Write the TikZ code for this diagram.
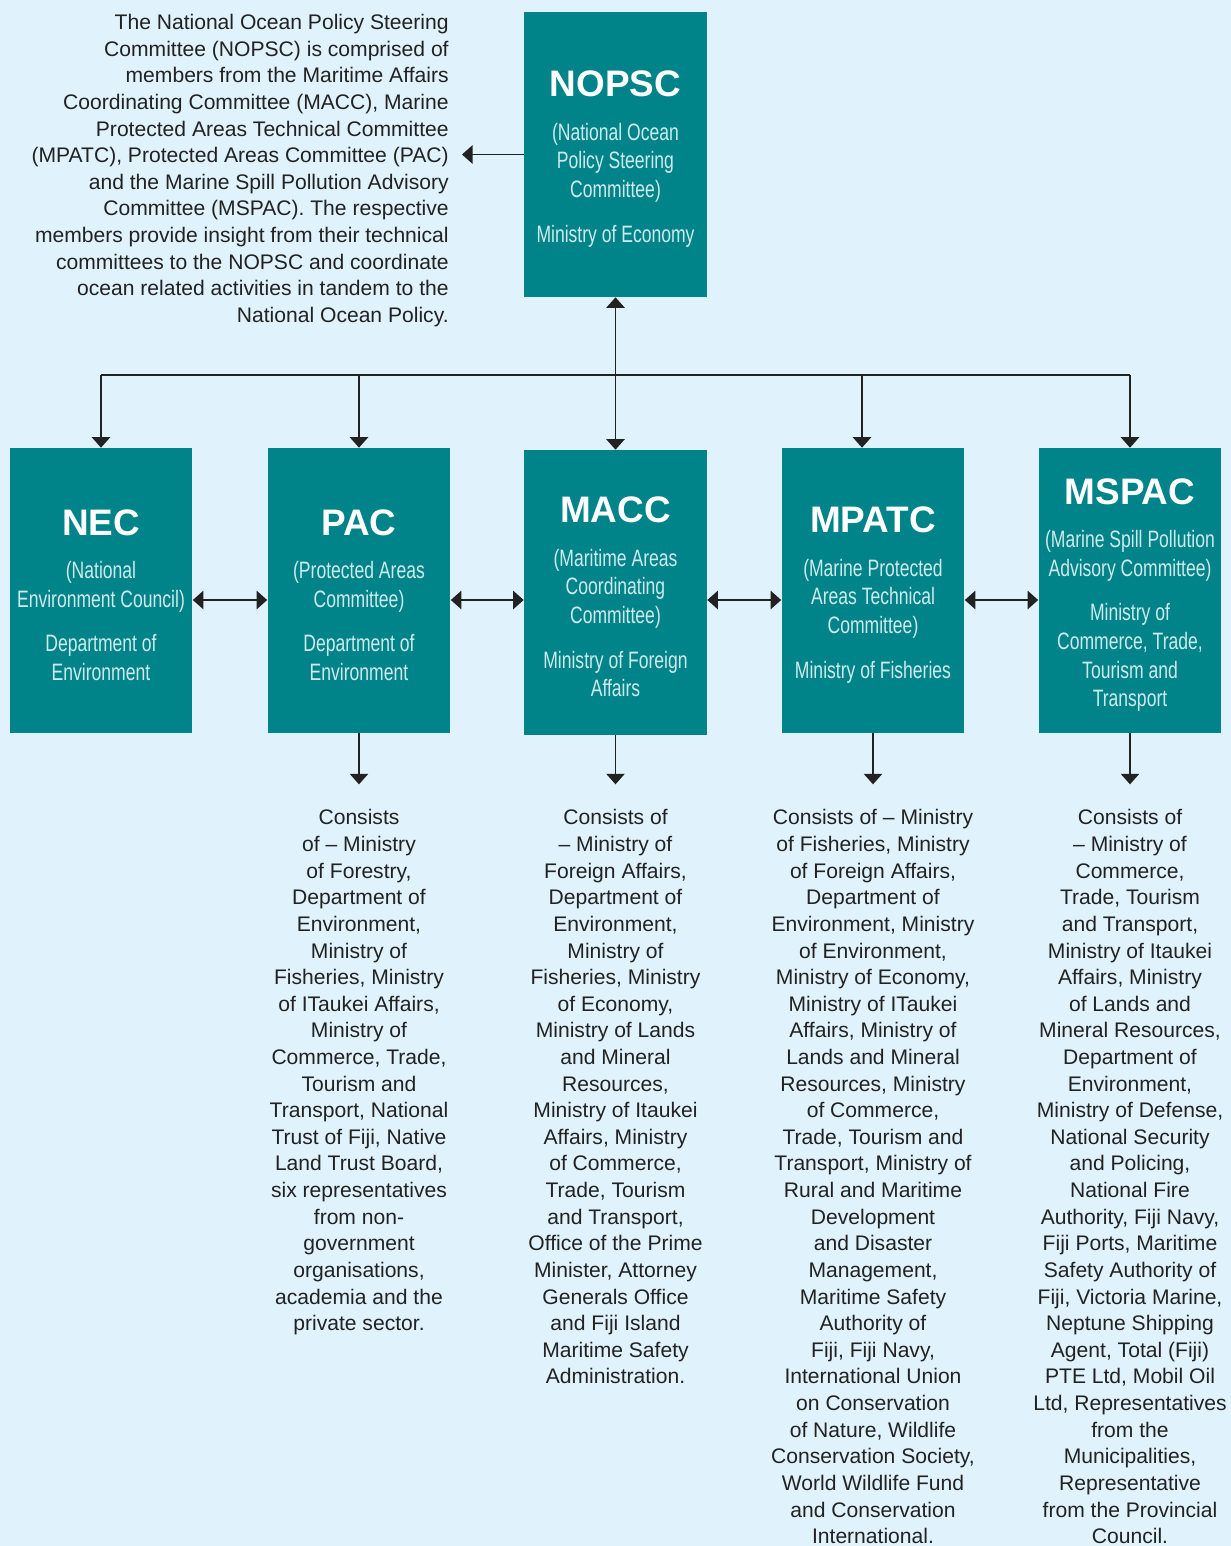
\documentclass[tikz,border=0pt]{standalone}
\usepackage{fontspec}
\setmainfont{Liberation Sans}
\newfontfamily\condfont[FakeStretch=0.74]{Liberation Sans}
\usepackage{tikz}
\usetikzlibrary{positioning,arrows.meta}
\definecolor{bgblue}{RGB}{224,242,251}
\definecolor{teal}{RGB}{0,132,138}
\definecolor{subtext}{RGB}{205,235,236}
\definecolor{ink}{RGB}{34,34,34}
\newcommand{\boxtitle}[1]{{\normalfont\color{white}\fontsize{21}{24}\selectfont\bfseries\rule{0pt}{20pt}#1}\\[8.2pt]}
\tikzset{
  % Specifications for style of nodes:
  base/.style = {
    rectangle,
    inner sep=0pt,
    text centered
  },
  committee/.style = {
    base,
    fill=teal,
    minimum width=3.66cm,
    minimum height=5.7cm,
    align=center,
    text=subtext,
    font=\condfont\fontsize{13.5}{16.3}\selectfont
  },
  members/.style = {
    base,
    align=center,
    text=ink,
    font=\fontsize{12}{15.15}\selectfont,
    node distance=1.52cm
  },
  % Specifications for style of connectors:
  arr/.style = {
    draw=ink,
    line width=0.7pt,
    -{Triangle[width=10.5pt,length=6pt]}
  },
  arrboth/.style = {
    draw=ink,
    line width=0.7pt,
    {Triangle[width=10.5pt,length=6pt]}-{Triangle[width=10.5pt,length=6pt]}
  },
}

\begin{document}
\begin{tikzpicture}[x=0.02cm, y=-0.02cm]
    \useasboundingbox (0,0) rectangle (1231,1546);
    \fill[bgblue] (0,0) rectangle (1231,1546);
    \clip (0,0) rectangle (1231,1546);

    % Steering committee and its note
    \node[committee] (nopsc) at (615.5,154.5) {\boxtitle{NOPSC}(National Ocean\\Policy Steering\\Committee)\\[9.3pt]Ministry of Economy};
    \node[members, align=right, anchor=north east] (intro) at (449,14)
      {The National Ocean Policy Steering\\Committee (NOPSC) is comprised of\\members from the Maritime Affairs\\Coordinating Committee (MACC), Marine\\Protected Areas Technical Committee\\(MPATC), Protected Areas Committee (PAC)\\and the Marine Spill Pollution Advisory\\Committee (MSPAC). The respective\\members provide insight from their technical\\committees to the NOPSC and coordinate\\ocean related activities in tandem to the\\National Ocean Policy.};

    % Technical committees
    \node[committee] (nec)   at (101,590.5)  {\boxtitle{NEC}(National\\Environment Council)\\[9.3pt]Department of\\Environment};
    \node[committee] (pac)   at (359,590.5)  {\boxtitle{PAC}(Protected Areas\\Committee)\\[9.3pt]Department of\\Environment};
    \node[committee] (macc)  at (615.5,592.5) {\boxtitle{MACC}(Maritime Areas\\Coordinating\\Committee)\\[9.3pt]Ministry of Foreign\\Affairs};
    \node[committee] (mpatc) at (873,590.5)  {\boxtitle{MPATC}(Marine Protected\\Areas Technical\\Committee)\\[9.3pt]Ministry of Fisheries};
    \node[committee] (mspac) at (1130,590.5) {\boxtitle{MSPAC}(Marine Spill Pollution\\Advisory Committee)\\[9.3pt]Ministry of\\Commerce, Trade,\\Tourism and\\Transport};

    % Members of each committee
    \node[members, below=of pac] (pacmembers)
      {Consists\\of -- Ministry\\of Forestry,\\Department of\\Environment,\\Ministry of\\Fisheries, Ministry\\of ITaukei Affairs,\\Ministry of\\Commerce, Trade,\\Tourism and\\Transport, National\\Trust of Fiji, Native\\Land Trust Board,\\six representatives\\from non-\\government\\organisations,\\academia and the\\private sector.};
    \node[members, below=1.48cm of macc] (maccmembers)
      {Consists of\\-- Ministry of\\Foreign Affairs,\\Department of\\Environment,\\Ministry of\\Fisheries, Ministry\\of Economy,\\Ministry of Lands\\and Mineral\\Resources,\\Ministry of Itaukei\\Affairs, Ministry\\of Commerce,\\Trade, Tourism\\and Transport,\\Office of the Prime\\Minister, Attorney\\Generals Office\\and Fiji Island\\Maritime Safety\\Administration.};
    \node[members, below=of mpatc] (mpatcmembers)
      {Consists of -- Ministry\\of Fisheries, Ministry\\of Foreign Affairs,\\Department of\\Environment, Ministry\\of Environment,\\Ministry of Economy,\\Ministry of ITaukei\\Affairs, Ministry of\\Lands and Mineral\\Resources, Ministry\\of Commerce,\\Trade, Tourism and\\Transport, Ministry of\\Rural and Maritime\\Development\\and Disaster\\Management,\\Maritime Safety\\Authority of\\Fiji, Fiji Navy,\\International Union\\on Conservation\\of Nature, Wildlife\\Conservation Society,\\World Wildlife Fund\\and Conservation\\International.};
    \node[members, below=of mspac] (mspacmembers)
      {Consists of\\-- Ministry of\\Commerce,\\Trade, Tourism\\and Transport,\\Ministry of Itaukei\\Affairs, Ministry\\of Lands and\\Mineral Resources,\\Department of\\Environment,\\Ministry of Defense,\\National Security\\and Policing,\\National Fire\\Authority, Fiji Navy,\\Fiji Ports, Maritime\\Safety Authority of\\Fiji, Victoria Marine,\\Neptune Shipping\\Agent, Total (Fiji)\\PTE Ltd, Mobil Oil\\Ltd, Representatives\\from the\\Municipalities,\\Representative\\from the Provincial\\Council.};

    % Connectors
    \coordinate (introtip) at (462,154.5);
    \coordinate (bus) at (615.5,375);
    \coordinate (link) at (0,600);
    \draw[arr] (nopsc.west) -- (introtip);
    \draw[arrboth] (nopsc) -- (macc);
    \draw[draw=ink, line width=0.7pt] (bus -| nec) -- (bus -| mspac);
    \foreach \c in {nec,pac,mspac}
      \draw[arr] (bus -| \c) -- (\c);
    \draw[arr] ([xshift=-0.22cm]bus -| mpatc) -- ([xshift=-0.22cm]mpatc.north);
    \draw[arrboth] (nec.east |- link) -- (pac.west |- link);
    \draw[arrboth] (pac.east |- link) -- (macc.west |- link);
    \draw[arrboth] (macc.east |- link) -- (mpatc.west |- link);
    \draw[arrboth] (mpatc.east |- link) -- (mspac.west |- link);
    \foreach \c in {pac,macc,mpatc,mspac}
      \draw[arr, shorten >=0.5cm] (\c) -- (\c members);
  \end{tikzpicture}
\end{document}
